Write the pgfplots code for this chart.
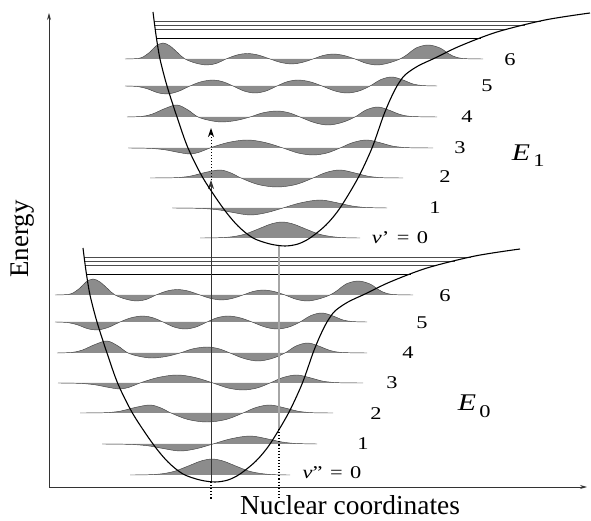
\documentclass[border=0pt]{standalone}
\usepackage{fontspec}
\setmainfont{Liberation Serif}
\usepackage{graphicx}
\usepackage{pgfplots}
\pgfplotsset{compat=1.18}
\usepackage{pgfplotstable}
\usetikzlibrary{arrows.meta}

% Potential energy curve of the excited state (x, energy); the ground state is the same curve shifted
\pgfplotstableread{
x y
153 509
156 486
160 462
167 435
177 404
188 373
203 343
223 313
238 295
253 283
270 277
285 275
298 277
310 283
326 296
340 313
358 343
372 373
383 404
390 421
397 435
405 446
418 455
435 463
460 475
497 489
545 501
590 508
}\potential

% Vibrational wavefunctions: x and amplitude relative to the level's baseline
\pgfplotstableread{
x y
200 0
217 0.2
232 1.2
245 3.9
260 9.7
271 14
282 16
293 14
304 9.7
319 3.9
333 1.2
347 0.2
360 0
}\wfzero
\pgfplotstableread{
x y
172 0
200 -0.4
218 -1.8
233 -4.5
250 -7
266 -4.8
283 0
300 5
320 8
338 5
352 2
366 0.5
387 0
}\wfone
\pgfplotstableread{
x y
150 0
175 0.3
190 1.8
205 5.5
220 8
231 5
241 0
258 -6.5
277 -9
296 -6.5
313 0
326 5.5
340 8
355 5
368 1.8
382 0.3
403 0
}\wftwo
\pgfplotstableread{
x y
128 0
150 -0.4
165 -1.8
178 -4.3
190 -6
200 -4
210 0
228 5.5
247 8
265 5.5
283 0
298 -5
313 -7
327 -5
340 0
353 5.5
367 8
381 5
393 1.8
408 0.3
433 0
}\wfthree
\pgfplotstableread{
x y
127 0
142 0.6
152 2.8
165 8.5
177 12
188 7
198 0
210 -3.5
222 -5
236 -3.5
250 0
263 4.2
277 6
289 4.2
300 0
314 -5.5
328 -8
342 -5.5
355 0
366 7
378 10
390 6.5
400 2.5
412 0.5
437 0
}\wffour
\pgfplotstableread{
x y
125 0
138 -0.6
148 -3
157 -6.5
167 -8
178 -5.5
190 0
201 4.2
213 6
223 4.2
233 0
244 -5
255 -7
266 -5
277 0
287 4.2
298 6
310 4.2
322 0
335 -5
347 -7
359 -5
370 0
381 6.5
392 9
403 6
413 2
423 0.4
437 0
}\wffive
\pgfplotstableread{
x y
125 0
135 0.3
142 1.5
150 7
156 13
163 16
170 13
178 6
185 0
196 -4.2
207 -6
217 -4.2
226 0
237 4
247 5.5
258 4
270 0
281 -3.5
292 -5
302 -3.5
313 0
323 3.5
333 5
344 3.5
355 0
366 -4.2
377 -6
388 -4.2
400 0
408 5
416 11
428 14
440 11
449 5
457 1.5
466 0.3
483 0
}\wfsix

% #1 table, #2 x shift, #3 baseline
\newcommand{\wave}[3]{\addplot[wf] table[x expr=\thisrow{x}+#2, y expr=\thisrow{y}+#3] {#1};}
\newcommand{\lab}[1]{\scalebox{1.25}[1]{\fontsize{18}{18}\selectfont #1}}

\begin{document}
\begin{tikzpicture}
\begin{axis}[
  x=1bp, y=1bp,
  xmin=0, xmax=591, ymin=0, ymax=521,
  hide axis, clip=false,
  wf/.style={draw=black!75, line width=0.45pt, fill=black!45, smooth, tension=0.55},
  level/.style={black!70, line width=0.6pt},
]
\addplot[draw=none] coordinates {(0,0) (591,521)};

% dissociation limit lines
\addplot[level] coordinates {(154,500) (541,500)};
\addplot[level] coordinates {(154,496) (525,496)};
\addplot[level] coordinates {(155,491.5) (507,491.5)};
\addplot[black, line width=0.7pt] coordinates {(156.5,483) (481,483)};
\addplot[level] coordinates {(84,264) (471,264)};
\addplot[level] coordinates {(84,260) (455,260)};
\addplot[level] coordinates {(85,255.5) (437,255.5)};
\addplot[black, line width=0.7pt] coordinates {(86.5,247) (411,247)};

% excited state levels
\wave{\wfzero}{0}{283}
\wave{\wfone}{0}{313}
\wave{\wftwo}{0}{343}
\wave{\wfthree}{0}{373}
\wave{\wffour}{0}{404}
\wave{\wffive}{0}{435}
\wave{\wfsix}{0}{462}
% ground state levels
\wave{\wfzero}{-70}{46}
\wave{\wfone}{-70}{77}
\wave{\wftwo}{-70}{108}
\wave{\wfthree}{-70}{138}
\wave{\wffour}{-70}{168}
\wave{\wffive}{-70}{199}
\wave{\wfsix}{-70}{226}

% vertical transitions
\addplot[black!80, line width=0.9pt, -{Stealth[length=9bp,width=6bp]}] coordinates {(211,39) (211,341)};
\addplot[black, line width=1pt, dotted, -{Stealth[length=9bp,width=6bp]}] coordinates {(211,341) (211,393)};
\addplot[black, line width=1.1pt, dotted] coordinates {(211,39) (211,21)};
\addplot[black!35, line width=1.6pt] coordinates {(279,275.5) (279,92)};
\addplot[black, line width=1.1pt, dotted] coordinates {(279,92) (279,21)};

% potential curves
\addplot[black, line width=1.1pt, smooth, tension=0.5] table {\potential};
\addplot[black, line width=1.1pt, smooth, tension=0.5] table[x expr=\thisrow{x}-70, y expr=\thisrow{y}-236] {\potential};

% axes
\addplot[black!80, line width=0.9pt, -{Stealth[length=7bp,width=4bp]}] coordinates {(49,34) (49,508)};
\addplot[black!80, line width=0.9pt, -{Stealth[length=7bp,width=4bp]}] coordinates {(49,34) (587,34)};

% labels
\node[rotate=90, anchor=base] at (28,282) {\fontsize{27}{27}\selectfont Energy};
\node[anchor=base] at (350,6) {\fontsize{27.5}{27.5}\selectfont Nuclear coordinates};

\node at (510,461) {\lab{6}};
\node at (487,435) {\lab{5}};
\node at (467,404) {\lab{4}};
\node at (460,373) {\lab{3}};
\node at (445,344) {\lab{2}};
\node at (435,313) {\lab{1}};
\node at (400,283) {\lab{\textit{v}’\,\,=\,\,0}};
\node at (521,368) {\scalebox{1.25}[1]{\fontsize{24}{24}\selectfont\textit{E}}};
\node at (539,360) {\lab{1}};

\node at (445,225) {\lab{6}};
\node at (422,198) {\lab{5}};
\node at (408,168) {\lab{4}};
\node at (392,138) {\lab{3}};
\node at (376,107) {\lab{2}};
\node at (363,77) {\lab{1}};
\node at (332,48) {\lab{\textit{v}”\,\,=\,\,0}};
\node at (467,118) {\scalebox{1.25}[1]{\fontsize{24}{24}\selectfont\textit{E}}};
\node at (485,109) {\lab{0}};
\end{axis}
\end{tikzpicture}
\end{document}
